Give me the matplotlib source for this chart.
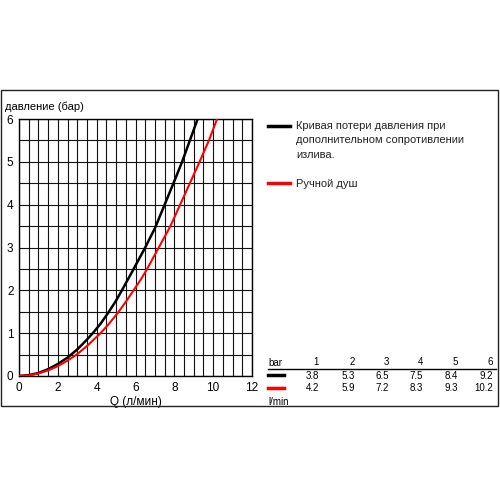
import matplotlib
matplotlib.use("Agg")
import matplotlib.pyplot as plt
from matplotlib.patches import Rectangle
from matplotlib.lines import Line2D
import numpy as np

plt.rcParams['font.family'] = ['Liberation Sans', 'DejaVu Sans']

# data
black_q = [0, 0.5, 1, 1.5, 2, 2.5, 3, 3.5, 3.8, 4.2, 4.6, 5.0, 5.3, 5.7, 6.0, 6.5, 7.0, 7.5, 8.0, 8.4, 8.8, 9.2]
black_p = [0, 0.02, 0.07, 0.16, 0.28, 0.43, 0.62, 0.85, 1.0, 1.22, 1.48, 1.76, 2.0, 2.33, 2.58, 3.0, 3.45, 4.0, 4.55, 5.0, 5.5, 6.0]
red_q = [0, 0.5, 1, 1.5, 2, 2.5, 3, 3.5, 4.2, 4.6, 5.1, 5.5, 5.9, 6.3, 6.6, 7.2, 7.8, 8.3, 8.8, 9.3, 9.8, 10.2]
red_p = [0, 0.015, 0.06, 0.13, 0.23, 0.36, 0.51, 0.7, 1.0, 1.2, 1.48, 1.73, 2.0, 2.27, 2.5, 3.0, 3.5, 4.0, 4.5, 5.0, 5.52, 6.0]

table_bar = ["1", "2", "3", "4", "5", "6"]
table_black = ["3.8", "5.3", "6.5", "7.5", "8.4", "9.2"]
table_red = ["4.2", "5.9", "7.2", "8.3", "9.3", "10.2"]

legend_black = "Кривая потери давления при\nдополнительном сопротивлении\nизлива."
legend_red = "Ручной душ"

W = H = 500
fig = plt.figure(figsize=(5, 5), dpi=100)

def fx(px):
    return px / W

def fy(py):
    return 1 - py / H

# outer frame
fig.patches.append(Rectangle((fx(1), fy(406)), fx(497), 316 / H, transform=fig.transFigure,
                             fill=False, edgecolor='#222222', linewidth=1.0))

ax = fig.add_axes([fx(19), fy(376), fx(252 - 19), (376 - 119) / H])
ax.set_xlim(0, 12)
ax.set_ylim(0, 6)
for v in np.arange(0, 12.01, 0.5):
    ax.axvline(v, color='#111111', linewidth=0.8, zorder=1)
for v in np.arange(0, 6.01, 0.5):
    ax.axhline(v, color='#111111', linewidth=0.8, zorder=1)
ax.plot(black_q, black_p, color='black', linewidth=1.8, zorder=3)
ax.plot(red_q, red_p, color='#ff0000', linewidth=1.5, zorder=3)
ax.set_xticks(range(0, 13, 2))
ax.set_yticks(range(0, 7))
ax.tick_params(length=0, labelsize=8.5, pad=4)
for s in ax.spines.values():
    s.set_linewidth(1.0)
ax.set_xlabel("Q (л/мин)", fontsize=8.5, labelpad=2)

fig.text(fx(5), fy(107), "давление (бар)", fontsize=8, va='center', ha='left')

# legend
fig.add_artist(Line2D([fx(268), fx(290)], [fy(126), fy(126)], color='black', linewidth=2.5,
                      transform=fig.transFigure))
fig.text(fx(296), fy(121), legend_black, fontsize=8, va='top', ha='left', linespacing=1.55,
         color='#222222')
fig.add_artist(Line2D([fx(268), fx(290)], [fy(183), fy(183)], color='#ff0000', linewidth=2.5,
                      transform=fig.transFigure))
fig.text(fx(296), fy(184), legend_red, fontsize=8, va='center', ha='left', color='#222222')

# table
cols_x = [319, 355, 389, 423, 458, 493]
fig.text(fx(268), fy(363), "bar", fontsize=7, va='center', ha='left')
fig.add_artist(Line2D([fx(268), fx(496)], [fy(369), fy(369)], color='black', linewidth=1.0,
                      transform=fig.transFigure))
fig.add_artist(Line2D([fx(268), fx(284)], [fy(375), fy(375)], color='black', linewidth=2.5,
                      transform=fig.transFigure))
fig.add_artist(Line2D([fx(268), fx(284)], [fy(388), fy(388)], color='#ff0000', linewidth=2.5,
                      transform=fig.transFigure))
for x, a, b, c in zip(cols_x, table_bar, table_black, table_red):
    fig.text(fx(x), fy(362), a, fontsize=7, va='center', ha='right')
    fig.text(fx(x), fy(376), b, fontsize=7, va='center', ha='right')
    fig.text(fx(x), fy(388), c, fontsize=7, va='center', ha='right')
fig.text(fx(268), fy(402), "l/min", fontsize=7, va='center', ha='left')

fig.savefig("out.png", dpi=100, facecolor='white')
